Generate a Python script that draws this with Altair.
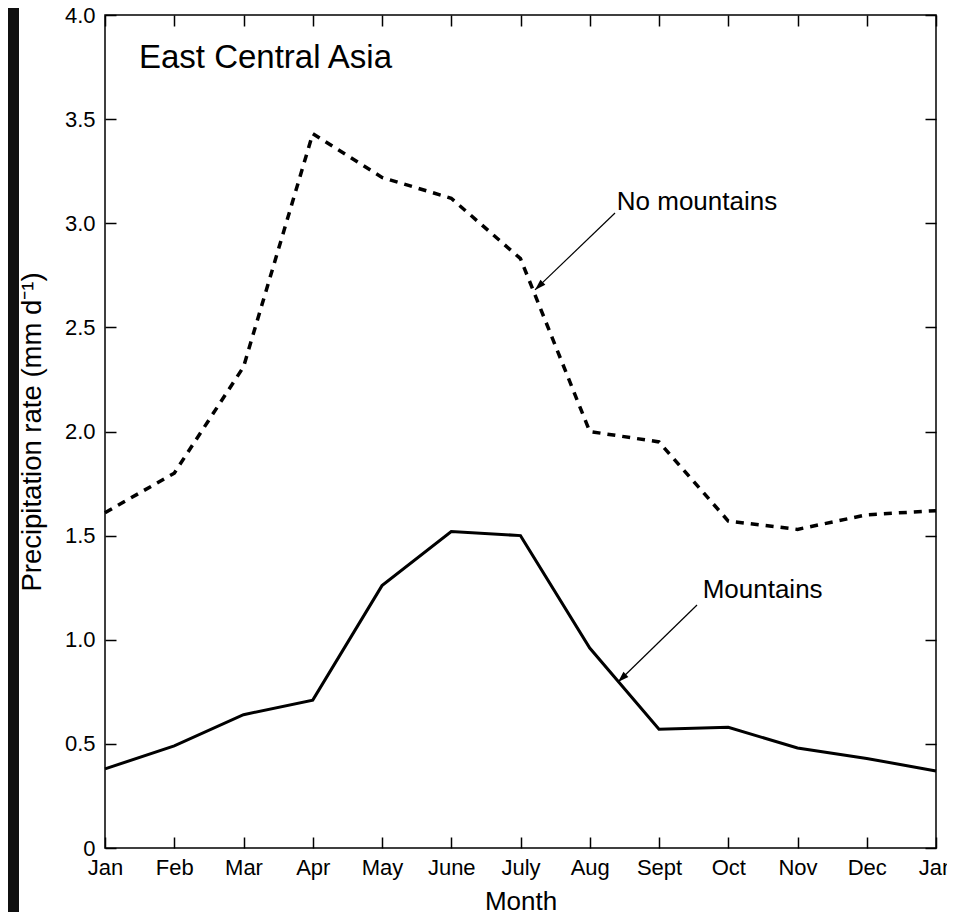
import json
import altair as alt
import pandas as pd

# ---------------- data ----------------
months = ["Jan", "Feb", "Mar", "Apr", "May", "June", "July", "Aug", "Sept", "Oct", "Nov", "Dec", "Jan"]
month_index = list(range(13))
mountains = [0.38, 0.49, 0.64, 0.71, 1.26, 1.52, 1.50, 0.96, 0.57, 0.58, 0.48, 0.43, 0.37]
no_mountains = [1.61, 1.80, 2.31, 3.43, 3.22, 3.12, 2.83, 2.00, 1.95, 1.57, 1.53, 1.60, 1.62]
y_ticks = [0, 0.5, 1.0, 1.5, 2.0, 2.5, 3.0, 3.5, 4.0]

ann_text = ["East Central Asia", "No mountains", "Mountains"]
ann_x = [0.49, 7.39, 8.63]
ann_y = [3.745, 3.064, 1.200]
ann_size = [33, 26, 26]

arrow_x0 = [7.365, 8.549]
arrow_y0 = [3.049, 1.167]
arrow_x1 = [6.209, 7.408]
arrow_y1 = [2.680, 0.797]

FONT = "Liberation Sans"

df_m = pd.DataFrame({"m": month_index, "rate": mountains})
df_n = pd.DataFrame({"m": month_index, "rate": no_mountains})
df_ann = pd.DataFrame({"t": ann_text, "x": ann_x, "y": ann_y, "fs": ann_size})
df_arr = pd.DataFrame({"x0": arrow_x0, "y0": arrow_y0, "x1": arrow_x1, "y1": arrow_y1})
df_frame = pd.DataFrame({"x0": [0], "x1": [12], "y0": [0], "y1": [4]})
df_one = pd.DataFrame({"a": [0]})

xscale = alt.Scale(domain=[0, 12], nice=False, zero=False)
yscale = alt.Scale(domain=[0, 4], nice=False, zero=False)

common = dict(offset=-11, tickSize=11, tickWidth=1.5, tickColor="black", domain=False,
              grid=False, zindex=1, labelFont=FONT, labelColor="black",
              titleFont=FONT, titleColor="black", titleFontWeight="normal")

x_axis = alt.Axis(orient="bottom", values=month_index,
                  labelExpr=json.dumps(months) + "[datum.value]",
                  labelFontSize=22, labelPadding=9, labelAngle=0, labelFlush=False,
                  labelOverlap=False, title="Month", titleFontSize=26,
                  titleY=72, titleBaseline="alphabetic", **common)
y_axis = alt.Axis(orient="left", values=y_ticks,
                  labelExpr="datum.value == 0 ? '0' : format(datum.value, '.1f')",
                  labelFontSize=22, labelPadding=10, labelFlush=False, labelOverlap=False,
                  title="Precipitation rate (mm d⁻¹)", titleFontSize=27.5,
                  titleX=-76, titleY=416.5, titleAngle=270, titleAlign="center",
                  titleBaseline="alphabetic", **common)
top_axis = alt.Axis(orient="top", values=month_index, labels=False, title=None, **common)
right_axis = alt.Axis(orient="right", values=y_ticks, labels=False, title=None, **common)

bg = alt.Chart(df_one).mark_rect(color="white").encode(
    x=alt.value(-86), x2=alt.value(844), y=alt.value(-8), y2=alt.value(899)
)

frame = alt.Chart(df_frame).mark_rect(fill="transparent", stroke="black", strokeWidth=1.5).encode(
    x=alt.X("x0:Q", scale=xscale, axis=top_axis), x2="x1:Q",
    y=alt.Y("y0:Q", scale=yscale, axis=right_axis), y2="y1:Q",
)

solid = alt.Chart(df_m).mark_line(color="black", strokeWidth=3, strokeJoin="miter").encode(
    x=alt.X("m:Q", scale=xscale, axis=x_axis),
    y=alt.Y("rate:Q", scale=yscale, axis=y_axis),
)

dashed = alt.Chart(df_n).mark_line(color="black", strokeWidth=3.5, strokeDash=[8, 7],
                                   strokeCap="butt").encode(
    x=alt.X("m:Q", scale=xscale, axis=None),
    y=alt.Y("rate:Q", scale=yscale, axis=None),
)

rules = alt.Chart(df_arr).mark_rule(color="black", strokeWidth=1.2).encode(
    x=alt.X("x0:Q", scale=xscale, axis=None), x2="x1:Q",
    y=alt.Y("y0:Q", scale=yscale, axis=None), y2="y1:Q",
)

heads = alt.Chart(df_arr).mark_point(shape="M0,0L0.32,1L-0.32,1Z", filled=True, size=484,
                                     angle=226, color="black", opacity=1).encode(
    x=alt.X("x1:Q", scale=xscale, axis=None),
    y=alt.Y("y1:Q", scale=yscale, axis=None),
)

texts = alt.Chart(df_ann).mark_text(font=FONT, color="black", align="left",
                                    baseline="alphabetic").encode(
    x=alt.X("x:Q", scale=xscale, axis=None),
    y=alt.Y("y:Q", scale=yscale, axis=None),
    text="t:N",
    size=alt.Size("fs:Q", scale=None, legend=None),
)

chart = alt.layer(bg, frame, solid, dashed, rules, heads, texts).resolve_axis(
    x="independent", y="independent"
).properties(
    width=831, height=833,
    autosize=alt.AutoSizeParams(type="none"),
    padding={"left": 97, "top": 7, "right": 11, "bottom": 64},
    background="#101010",
).configure_view(strokeWidth=0)

chart.save("out.html", embed_options={"renderer": "svg", "actions": False})
